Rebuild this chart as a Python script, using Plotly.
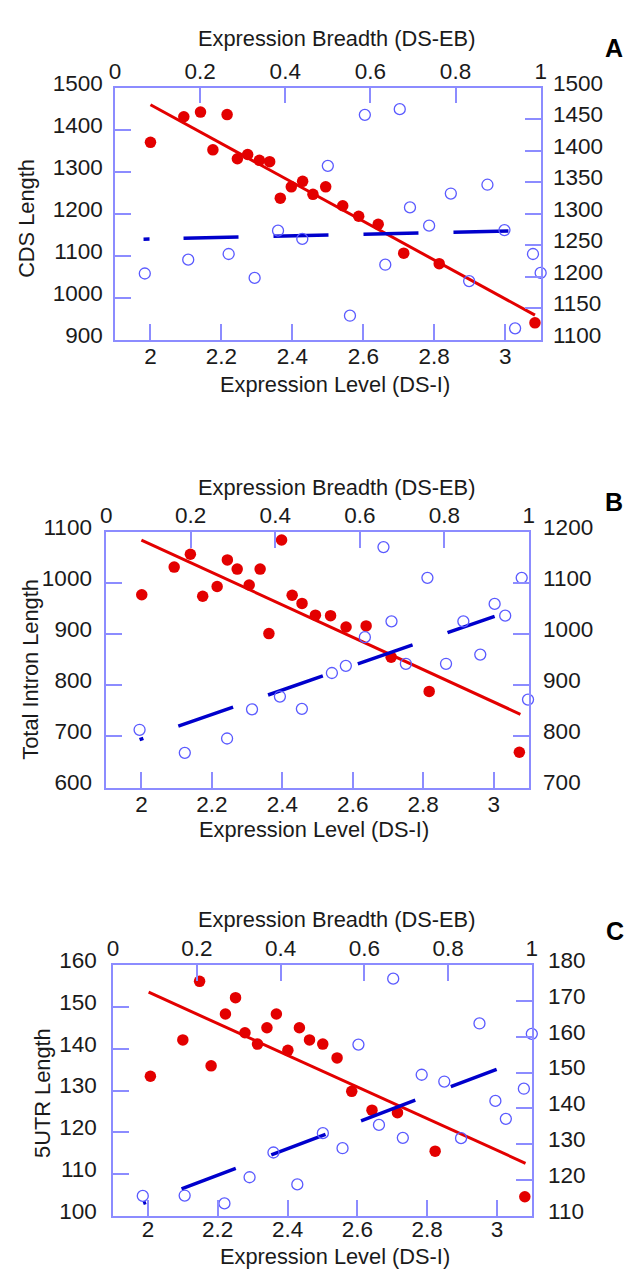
import plotly.graph_objects as go

# The figure is drawn 8px inside the page (default body margin), so that the
# page is exactly 638 x 1280 without any overflow.
PAGE_OFF = 8
W, H = 638 - 2 * PAGE_OFF, 1280 - 2 * PAGE_OFF

# ---------------- data ----------------
# Panel A : CDS Length
a_level = [2.00, 2.094, 2.141, 2.176, 2.216, 2.245, 2.274, 2.307, 2.336, 2.366,
           2.397, 2.429, 2.458, 2.494, 2.542, 2.587, 2.642, 2.714, 2.814, 3.084]
a_len_level = [1370, 1431, 1442, 1352, 1436, 1331, 1341, 1327, 1324, 1237,
               1264, 1277, 1246, 1264, 1219, 1194, 1175, 1106, 1081, 940]
a_breadth = [0.070, 0.172, 0.267, 0.328, 0.383, 0.440, 0.500, 0.552, 0.587, 0.635,
             0.669, 0.693, 0.738, 0.789, 0.832, 0.875, 0.915, 0.940, 0.982, 1.0]
a_len_breadth = [1205, 1227, 1236, 1198, 1273, 1260, 1376, 1138, 1457, 1219,
                 1466, 1310, 1281, 1332, 1193, 1346, 1274, 1118, 1236, 1206]
a_fit_level_x = [2.0, 3.084]
a_fit_level_y = [1459.6, 958.3]
a_fit_breadth_x = [0.067, 1.0]
a_fit_breadth_y = [1259.6, 1273.6]

# Panel B : Total Intron Length
b_level = [2.001, 2.093, 2.139, 2.174, 2.215, 2.244, 2.272, 2.306, 2.337, 2.362,
           2.398, 2.428, 2.456, 2.494, 2.537, 2.581, 2.638, 2.709, 2.817, 3.073]
b_len_level = [977, 1031, 1056, 974, 993, 1045, 1027, 996, 1027, 901,
               1084, 976, 960, 937, 936, 914, 916, 855, 788, 669]
b_breadth = [0.079, 0.186, 0.286, 0.345, 0.411, 0.463, 0.534, 0.567, 0.612, 0.656,
             0.675, 0.709, 0.760, 0.804, 0.845, 0.885, 0.919, 0.944, 0.983, 0.998]
b_len_breadth = [813, 768, 796, 853, 878, 854, 924, 938, 994, 1170,
                 1025, 942, 1110, 942, 1025, 960, 1059, 1036, 1110, 872]
b_fit_level_x = [2.0, 3.076]
b_fit_level_y = [1083.9, 743.3]
b_fit_breadth_x = [0.079, 0.919]
b_fit_breadth_y = [793.8, 1034.8]

# Panel C : 5UTR Length
c_level = [2.007, 2.100, 2.148, 2.181, 2.222, 2.251, 2.278, 2.314, 2.341, 2.368,
           2.401, 2.434, 2.463, 2.501, 2.542, 2.584, 2.642, 2.715, 2.823, 3.080]
c_len_level = [133.4, 142.1, 156.1, 135.9, 148.3, 152.2, 143.8, 141.1, 145.0, 148.3,
               139.6, 145.0, 142.1, 141.1, 137.8, 129.8, 125.3, 124.7, 115.5, 104.6]
c_breadth = [0.071, 0.171, 0.266, 0.326, 0.383, 0.440, 0.501, 0.548, 0.586, 0.635,
             0.669, 0.692, 0.737, 0.791, 0.831, 0.875, 0.913, 0.938, 0.981, 1.0]
c_len_breadth = [115.6, 115.7, 113.5, 120.8, 127.7, 118.8, 133.1, 128.9, 157.8, 135.4,
                 176.2, 131.8, 149.4, 147.5, 131.7, 163.7, 142.1, 137.1, 145.5, 160.8]
c_fit_level_x = [2.002, 3.082]
c_fit_level_y = [153.5, 112.6]
c_fit_breadth_x = [0.072, 0.916]
c_fit_breadth_y = [113.5, 150.9]

level_ticks = [2, 2.2, 2.4, 2.6, 2.8, 3]
level_labels = ["2", "2.2", "2.4", "2.6", "2.8", "3"]
breadth_ticks = [0, 0.2, 0.4, 0.6, 0.8, 1]
breadth_labels = ["0", "0.2", "0.4", "0.6", "0.8", "1"]

top_title = "Expression Breadth (DS-EB)"
bottom_title = "Expression Level (DS-I)"

# ---------------- styling ----------------
FONT = "Liberation Sans, Arial, sans-serif"
FRAME = "#8c8cff"
RED = "#e30000"
BLUE_PT = "#5a5aff"
BLUE_LN = "#0000cc"
TXT = "#1a1a1a"
TICKFONT = dict(family=FONT, size=22.5, color=TXT)
TITLEFONT = dict(family=FONT, size=21.8, color=TXT)


def px2x(v):
    return (v - PAGE_OFF) / W


def py2y(v):
    return 1 - (v - PAGE_OFF) / H


panels = [
    dict(name="A", ytitle="CDS Length",
         lvl=a_level, lvl_y=a_len_level, br=a_breadth, br_y=a_len_breadth,
         fl_x=a_fit_level_x, fl_y=a_fit_level_y, fb_x=a_fit_breadth_x, fb_y=a_fit_breadth_y,
         yl=[900, 1500], yl_d=100, yr=[1100, 1500], yr_d=50,
         px=(111, 545), py=(72, 329), ystand=6, xstand=-4,
         dash="6px,34px,55px,35px,55px,35px,55px,35px,55px,35px,55px,35px",
         top_t=(337, 21.5), bot_t=(335, 375), y_t=(20, 205), lab=(620, 31)),
    dict(name="B", ytitle="Total Intron Length",
         lvl=b_level, lvl_y=b_len_level, br=b_breadth, br_y=b_len_breadth,
         fl_x=b_fit_level_x, fl_y=b_fit_level_y, fb_x=b_fit_breadth_x, fb_y=b_fit_breadth_y,
         yl=[600, 1100], yl_d=100, yr=[700, 1200], yr_d=100,
         px=(102, 533), py=(525, 786), ystand=8, xstand=-4,
         dash="4px,37px,58px,37px,58px,37px,58px,37px,58px,37px",
         top_t=(337, 480), bot_t=(314, 829), y_t=(24, 665), lab=(620, 495)),
    dict(name="C", ytitle="5UTR Length",
         lvl=c_level, lvl_y=c_len_level, br=c_breadth, br_y=c_len_breadth,
         fl_x=c_fit_level_x, fl_y=c_fit_level_y, fb_x=c_fit_breadth_x, fb_y=c_fit_breadth_y,
         yl=[100, 160], yl_d=10, yr=[110, 180], yr_d=10,
         px=(109, 536), py=(967, 1223), ystand=10, xstand=-8,
         dash="3px,38px,58px,38px,58px,38px,58px,38px,58px,38px",
         top_t=(337, 921), bot_t=(335, 1264), y_t=(37, 1097), lab=(621, 932)),
]

fig = go.Figure()
layout = dict(width=W, height=H, margin=dict(l=0, r=0, t=0, b=0),
              paper_bgcolor="white", plot_bgcolor="white", showlegend=False)
annotations = []

common_axis = dict(showgrid=False, zeroline=False, showline=True, linecolor=FRAME,
                   linewidth=1.5, ticks="inside", ticklen=16, tickwidth=1.5,
                   tickcolor=FRAME, tickfont=TICKFONT)

for i, p in enumerate(panels):
    xb = 2 * i + 1      # bottom x / left y
    xt = 2 * i + 2      # top x / right y
    xb_name = "x" if xb == 1 else f"x{xb}"
    yb_name = "y" if xb == 1 else f"y{xb}"
    xt_name = f"x{xt}"
    yt_name = f"y{xt}"
    xb_key = "xaxis" if xb == 1 else f"xaxis{xb}"
    yb_key = "yaxis" if xb == 1 else f"yaxis{xb}"

    dom_x = [px2x(p["px"][0]), px2x(p["px"][1])]
    dom_y = [py2y(p["py"][1]), py2y(p["py"][0])]

    layout[xb_key] = dict(common_axis, domain=dom_x, anchor=yb_name, range=[1.9, 3.1],
                          tickvals=level_ticks, ticktext=level_labels, side="bottom",
                          ticklabelstandoff=p["xstand"])
    layout[f"xaxis{xt}"] = dict(common_axis, overlaying=xb_name, anchor=yb_name,
                                range=[0, 1], side="top", tickvals=breadth_ticks,
                                ticktext=breadth_labels, ticklabelstandoff=-2)
    layout[yb_key] = dict(common_axis, domain=dom_y, anchor=xb_name, range=p["yl"],
                          dtick=p["yl_d"], tick0=p["yl"][0], side="left",
                          ticklabelstandoff=p["ystand"], ticklabelshift=-5)
    layout[f"yaxis{xt}"] = dict(common_axis, overlaying=yb_name, anchor=xb_name,
                                range=p["yr"], dtick=p["yr_d"], tick0=p["yr"][0],
                                side="right", ticklabelstandoff=p["ystand"],
                                ticklabelshift=-5)

    # breadth fit (blue dashed) and points (blue open circles)
    fig.add_trace(go.Scatter(x=p["fb_x"], y=p["fb_y"], xaxis=xt_name, yaxis=yt_name,
                             mode="lines", line=dict(color=BLUE_LN, width=3.5, dash=p["dash"]),
                             hoverinfo="skip"))
    fig.add_trace(go.Scatter(x=p["br"], y=p["br_y"], xaxis=xt_name, yaxis=yt_name,
                             mode="markers", cliponaxis=False,
                             marker=dict(symbol="circle-open", size=11, color=BLUE_PT,
                                         line=dict(width=1.3, color=BLUE_PT))))
    # level fit (red) and points (red filled)
    fig.add_trace(go.Scatter(x=p["fl_x"], y=p["fl_y"], xaxis=xb_name, yaxis=yb_name,
                             mode="lines", line=dict(color=RED, width=3),
                             hoverinfo="skip"))
    fig.add_trace(go.Scatter(x=p["lvl"], y=p["lvl_y"], xaxis=xb_name, yaxis=yb_name,
                             mode="markers", cliponaxis=False,
                             marker=dict(symbol="circle", size=11.5, color=RED)))

    annotations.append(dict(text=top_title, x=px2x(p["top_t"][0]), y=py2y(p["top_t"][1]),
                            xref="paper", yref="paper", showarrow=False,
                            xanchor="center", yanchor="middle", font=TITLEFONT))
    annotations.append(dict(text=bottom_title, x=px2x(p["bot_t"][0]), y=py2y(p["bot_t"][1]),
                            xref="paper", yref="paper", showarrow=False,
                            xanchor="center", yanchor="middle", font=TITLEFONT))
    annotations.append(dict(text=p["ytitle"], x=px2x(p["y_t"][0]), y=py2y(p["y_t"][1]),
                            xref="paper", yref="paper", showarrow=False, textangle=-90,
                            xanchor="center", yanchor="middle", font=TITLEFONT))
    annotations.append(dict(text="<b>" + p["name"] + "</b>", x=px2x(p["lab"][0]),
                            y=py2y(p["lab"][1]), xref="paper", yref="paper",
                            showarrow=False, xanchor="center", yanchor="middle",
                            font=dict(family=FONT, size=25, color="black")))

layout["annotations"] = annotations
fig.update_layout(**layout)
fig.write_html("out.html", config={"displayModeBar": False})
